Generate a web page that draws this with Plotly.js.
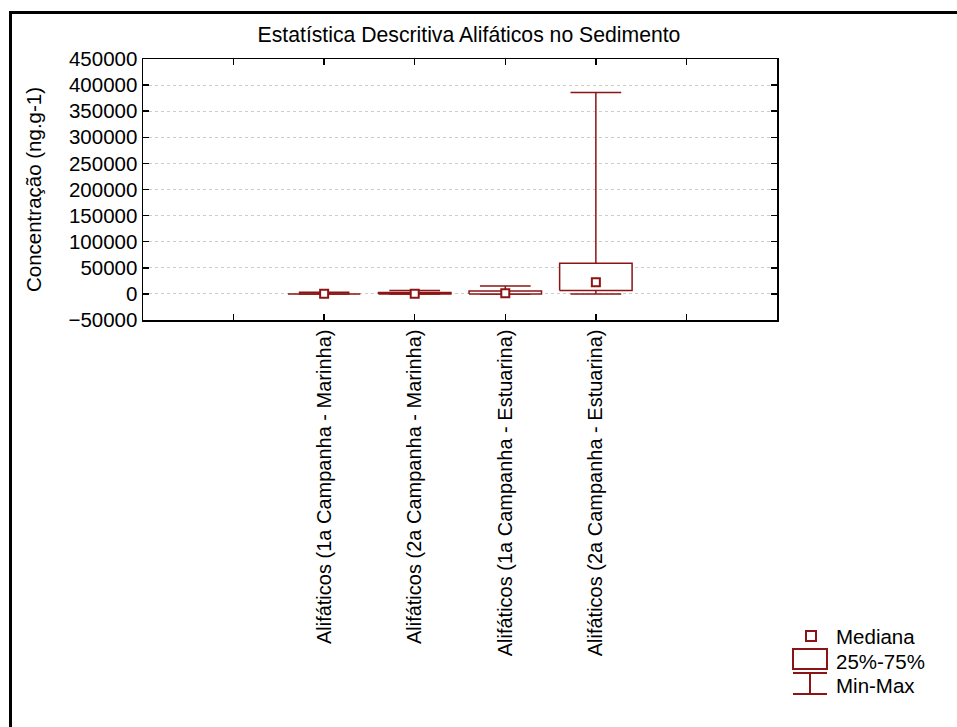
<!DOCTYPE html>
<html><head><meta charset="utf-8">
<script src="https://cdn.plot.ly/plotly-3.0.1.min.js"></script>
<style>
html,body{margin:0;padding:0;overflow:hidden;background:#fff;}
#chart{position:absolute;left:0;top:0;width:957px;height:727px;}
</style>
</head><body>
<div id="chart"></div>
<script>
// ---- data ----
const categories = [
  "Alifáticos (1a Campanha - Marinha)",
  "Alifáticos (2a Campanha - Marinha)",
  "Alifáticos (1a Campanha - Estuarina)",
  "Alifáticos (2a Campanha - Estuarina)"
];
const positions = [2, 3, 4, 5];
const minVals    = [0, 0, 0, 0];
const q1Vals     = [0, 0, 0, 6300];
const medianVals = [200, 200, 1300, 22400];
const q3Vals     = [1300, 2500, 5700, 58800];
const maxVals    = [3300, 6300, 15300, 385600];
const tickPositions = [1, 2, 3, 4, 5, 6];
const tickLabels = ["", ...categories, ""];
const legendLabels = ["Mediana", "25%-75%", "Min-Max"];

// ---- style ----
const RED = "#8B1414";
const FONT = "Liberation Sans, Arial, sans-serif";
const FS = 20.5;
const boxHalf = 0.4, capHalf = 0.28;
const M = {l: 143, r: 180, t: 59, b: 407};
const W = 957, H = 727;
const pw = W - M.l - M.r, ph = H - M.t - M.b;
const px = v => (v - M.l) / pw;
const py = v => (H - M.b - v) / ph;

// whiskers + caps
const wx = [], wy = [];
positions.forEach((x, i) => {
  wx.push(x, x, null); wy.push(minVals[i], maxVals[i], null);
  wx.push(x - capHalf, x + capHalf, null); wy.push(maxVals[i], maxVals[i], null);
  wx.push(x - capHalf, x + capHalf, null); wy.push(minVals[i], minVals[i], null);
});
// boxes
const bx = [], by = [];
positions.forEach((x, i) => {
  bx.push(x - boxHalf, x + boxHalf, x + boxHalf, x - boxHalf, x - boxHalf, null);
  by.push(q1Vals[i], q1Vals[i], q3Vals[i], q3Vals[i], q1Vals[i], null);
});

const traces = [
  {x: wx, y: wy, mode: "lines", line: {color: RED, width: 1.5}, hoverinfo: "skip", showlegend: false},
  {x: bx, y: by, mode: "lines", fill: "toself", fillcolor: "#ffffff", line: {color: RED, width: 1.5}, hoverinfo: "skip", showlegend: false},
  {x: positions, y: medianVals, mode: "markers", marker: {symbol: "square", size: 8, color: "#ffffff", line: {color: RED, width: 2}}, showlegend: false}
];

// outer frame (left + top edges only, as in the reference) and custom legend
const shapes = [
  {type: "line", xref: "paper", yref: "paper", x0: px(10.5), x1: px(10.5), y0: py(11.5), y1: py(727), line: {color: "#000", width: 3}},
  {type: "line", xref: "paper", yref: "paper", x0: px(9), x1: px(957), y0: py(12.5), y1: py(12.5), line: {color: "#000", width: 3}},
  {type: "rect", xref: "paper", yref: "paper", x0: px(806), x1: px(816), y0: py(641), y1: py(631), line: {color: RED, width: 2}, fillcolor: "#fff"},
  {type: "rect", xref: "paper", yref: "paper", x0: px(793), x1: px(827), y0: py(669), y1: py(649), line: {color: RED, width: 2}, fillcolor: "#fff"},
  {type: "line", xref: "paper", yref: "paper", x0: px(793), x1: px(827), y0: py(673), y1: py(673), line: {color: RED, width: 2}},
  {type: "line", xref: "paper", yref: "paper", x0: px(793), x1: px(827), y0: py(694), y1: py(694), line: {color: RED, width: 2}},
  {type: "line", xref: "paper", yref: "paper", x0: px(810), x1: px(810), y0: py(673), y1: py(694), line: {color: RED, width: 2}}
];
const legY = [636, 661, 685];
const annotations = legendLabels.map((t, i) => ({
  text: t, xref: "paper", yref: "paper", x: px(834), y: py(legY[i]),
  xanchor: "left", yanchor: "middle", showarrow: false,
  font: {family: FONT, size: FS, color: "#000"}
}));

const layout = {
  width: W, height: H,
  margin: M,
  paper_bgcolor: "#fff", plot_bgcolor: "#fff",
  font: {family: FONT, size: FS, color: "#000"},
  showlegend: false,
  title: {text: "Estatística Descritiva Alifáticos no Sedimento", x: 469 / W, xref: "container", xanchor: "center",
          y: 1 - 35 / H, yref: "container", yanchor: "middle", font: {family: FONT, size: 21.2, color: "#000"}},
  xaxis: {range: [0, 7], tickmode: "array", tickvals: tickPositions, ticktext: tickLabels, tickangle: -90,
          ticks: "inside", ticklen: 6, tickcolor: "#000", tickwidth: 1.5, showline: true, linecolor: "#000", linewidth: 1.5,
          mirror: "ticks", showgrid: false, zeroline: false, fixedrange: true, automargin: false,
          tickfont: {family: FONT, size: 20, color: "#000"}},
  yaxis: {range: [-50000, 450000], tickmode: "linear", tick0: 0, dtick: 50000, tickformat: "d",
          ticks: "inside", ticklen: 6, tickcolor: "#000", tickwidth: 1.5, showline: true, linecolor: "#000", linewidth: 1.5,
          mirror: "ticks", showgrid: true, gridcolor: "#cccccc", griddash: "dot", gridwidth: 1, zeroline: false,
          fixedrange: true, automargin: false,
          tickfont: {family: FONT, size: FS, color: "#000"},
          title: {text: "Concentração (ng.g-1)", font: {family: FONT, size: FS, color: "#000"}, standoff: 21}},
  shapes: shapes,
  annotations: annotations
};

Plotly.newPlot("chart", traces, layout, {displayModeBar: false, staticPlot: true});
</script>
</body></html>
